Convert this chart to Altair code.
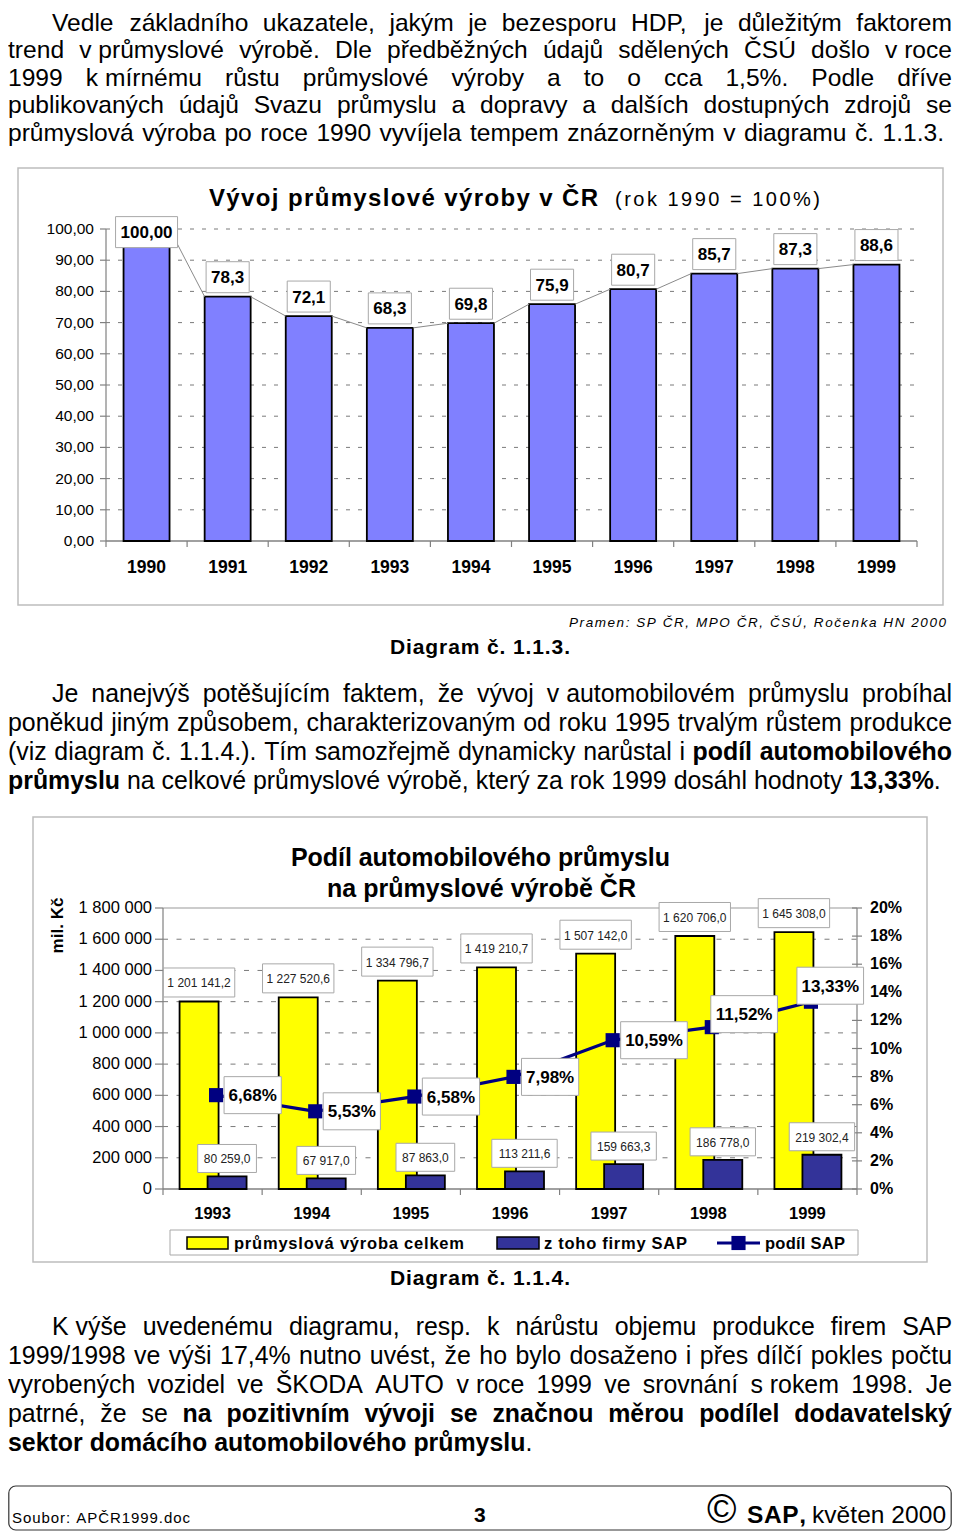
import unicodedata
import altair as alt
import pandas as pd

# ======================= DATA =======================
years_a = [1990, 1991, 1992, 1993, 1994, 1995, 1996, 1997, 1998, 1999]
index_a = [100.0, 78.3, 72.1, 68.3, 69.8, 75.9, 80.7, 85.7, 87.3, 88.6]
index_a_text = ["100,00", "78,3", "72,1", "68,3", "69,8", "75,9", "80,7", "85,7", "87,3", "88,6"]
ticks_a = [0, 10, 20, 30, 40, 50, 60, 70, 80, 90, 100]
ticks_a_text = ["0,00", "10,00", "20,00", "30,00", "40,00", "50,00",
                "60,00", "70,00", "80,00", "90,00", "100,00"]

years_b = [1993, 1994, 1995, 1996, 1997, 1998, 1999]
total_b = [1201141.2, 1227520.6, 1334796.7, 1419210.7, 1507142.0, 1620706.0, 1645308.0]
sap_b = [80259.0, 67917.0, 87863.0, 113211.6, 159663.3, 186778.0, 219302.4]
share_b = [6.68, 5.53, 6.58, 7.98, 10.59, 11.52, 13.33]
total_b_text = ["1 201 141,2", "1 227 520,6", "1 334 796,7", "1 419 210,7",
                "1 507 142,0", "1 620 706,0", "1 645 308,0"]
sap_b_text = ["80 259,0", "67 917,0", "87 863,0", "113 211,6", "159 663,3", "186 778,0", "219 302,4"]
share_b_text = ["6,68%", "5,53%", "6,58%", "7,98%", "10,59%", "11,52%", "13,33%"]
ticks_b = [0, 200000, 400000, 600000, 800000, 1000000, 1200000, 1400000, 1600000, 1800000]
ticks_b_text = ["0", "200 000", "400 000", "600 000", "800 000", "1 000 000",
                "1 200 000", "1 400 000", "1 600 000", "1 800 000"]
ticks_c = [0, 2, 4, 6, 8, 10, 12, 14, 16, 18, 20]
ticks_c_text = ["0%", "2%", "4%", "6%", "8%", "10%", "12%", "14%", "16%", "18%", "20%"]
legend_b = ["průmyslová výroba celkem", "z toho firmy SAP", "podíl SAP"]

title_a = "Vývoj průmyslové výroby v ČR"
subtitle_a = "(rok 1990 = 100%)"
source_a = "Pramen: SP ČR, MPO ČR, ČSÚ, Ročenka HN 2000"
caption_a = "Diagram č. 1.1.3."
title_b = ["Podíl automobilového průmyslu", "na průmyslové výrobě ČR"]
unit_b = "mil. Kč"
caption_b = "Diagram č. 1.1.4."

NB = "\u00a0"
# (first x, right edge for justification or None, text); *...* marks bold
para1 = [
    (52, 952, "Vedle základního ukazatele, jakým je bezesporu HDP, je důležitým faktorem"),
    (8, 952, "trend v" + NB + "průmyslové výrobě. Dle předběžných údajů sdělených ČSÚ došlo v" + NB + "roce"),
    (8, 952, "1999 k" + NB + "mírnému růstu průmyslové výroby a to o cca 1,5%. Podle dříve"),
    (8, 952, "publikovaných údajů Svazu průmyslu a dopravy a dalších dostupných zdrojů se"),
    (8, 944, "průmyslová výroba po roce 1990 vyvíjela tempem znázorněným v diagramu č. 1.1.3."),
]
para2 = [
    (52, 952, "Je nanejvýš potěšujícím faktem, že vývoj v" + NB + "automobilovém průmyslu probíhal"),
    (8, 952, "poněkud jiným způsobem, charakterizovaným od roku 1995 trvalým růstem produkce"),
    (8, 952, "(viz diagram č. 1.1.4.). Tím samozřejmě dynamicky narůstal i *podíl automobilového*"),
    (8, None, "*průmyslu* na celkové průmyslové výrobě, který za rok 1999 dosáhl hodnoty *13,33%*."),
]
para3 = [
    (52, 952, "K" + NB + "výše uvedenému diagramu, resp. k nárůstu objemu produkce firem SAP"),
    (8, 952, "1999/1998 ve výši 17,4% nutno uvést, že ho bylo dosaženo i přes dílčí pokles počtu"),
    (8, 952, "vyrobených vozidel ve ŠKODA AUTO v" + NB + "roce 1999 ve srovnání s" + NB + "rokem 1998. Je"),
    (8, 952, "patrné, že se *na pozitivním vývoji se značnou měrou podílel dodavatelský*"),
    (8, None, "*sektor domácího automobilového průmyslu*."),
]
footer_left = "Soubor: APČR1999.doc"
footer_mid = "3"
footer_right = ["©", "SAP,", "květen 2000"]

# label placement tweaks (pixels) for the share labels
share_dx = [8, 8, 8, 8, 8, -1, -14]
share_dy = [0, 0, 0, 0, 0, -13, -16]

# ======================= FONT METRICS =======================
def _tab(groups):
    d = {}
    for chars, w in groups:
        for c in chars:
            d[c] = w
    return d

REG = _tab([("abdeghnopqu0123456789L", 556), ("ckszvxyJ", 500), ("ft ,.:;/!I" + NB, 278),
            ("ijl", 222), ("r()-", 333), ("mM", 833), ("wCDHNRU", 722), ("ABEKPSVXY&", 667),
            ("GOQ", 778), ("FTZ", 611), ("W", 944), ("%", 889), ("=+", 584), ("©", 737)])
BOLD = _tab([("aceksvxyJ0123456789", 556), ("bdghnopquFLTZ", 611), ("ft:;()-", 333),
             ("ijl ,./I" + NB, 278), ("r", 389), ("m%", 889), ("wGOQ", 778), ("z", 500),
             ("ABCDHKNRU", 722), ("EPSVXY", 667), ("M", 833), ("W", 944), ("=+", 584), ("©", 737)])


def cw(c, bold):
    t = BOLD if bold else REG
    if c in t:
        return t[c]
    base = unicodedata.normalize("NFD", c)[0]
    if not bold and base == "i":
        return 278
    return t.get(base, 556)


def tw(s, size, bold):
    return sum(cw(c, bold) for c in s) * size / 1000.0


def parse(line):
    toks, bold = [], False
    for word in line.split(" "):
        segs = []
        for k, p in enumerate(word.split("*")):
            if k > 0:
                bold = not bold
            if p:
                segs.append((p, bold))
        toks.append(segs)
    return toks


rows = []


def fit(text, x0, x1, base, size, bold=False, italic=False):
    ws = [cw(c, bold) * size / 1000.0 for c in text]
    sp = (x1 - x0 - sum(ws)) / (len(text) - 1) if len(text) > 1 else 0.0
    x = x0
    for c, w in zip(text, ws):
        if c.strip():
            rows.append(dict(t=c, x=x, y=base, s=size, b=bold, i=italic))
        x += w + sp


def para(lines, baselines, size):
    for (x0, right, line), base in zip(lines, baselines):
        toks = parse(line)
        widths = [sum(tw(t, size, b) for t, b in tok) for tok in toks]
        if right is not None and len(toks) > 1:
            gap = (right - x0 - sum(widths)) / (len(toks) - 1)
        else:
            gap = cw(" ", False) * size / 1000.0
        x = x0
        for tok, w in zip(toks, widths):
            for t, b in tok:
                rows.append(dict(t=t, x=x, y=base, s=size, b=b, i=False))
                x += tw(t, size, b)
            x += gap


# ======================= SCALES =======================
W, H = 944, 1524
OX, OY = 8, 8


def sc(d0, d1, p0, p1, o):
    return alt.Scale(domain=[d0, d1], range=[p0 - o, p1 - o], nice=False, zero=False)


PX = sc(OX, OX + W, OX, OX + W, OX)
PY = sc(OY, OY + H, OY, OY + H, OY)

A_L, A_R, A_B, A_T = 106, 917, 541, 229
XA = sc(years_a[0] - 0.5, years_a[-1] + 0.5, A_L, A_R, OX)
YA = sc(0, 100, A_B, A_T, OY)
PXU_A = (A_R - A_L) / len(years_a)
PYU_A = (A_B - A_T) / 100.0

B_L, B_R, B_B, B_T = 163, 857, 1189, 908
XB = sc(years_b[0] - 0.5, years_b[-1] + 0.5, B_L, B_R, OX)
YB = sc(0, 1800000, B_B, B_T, OY)
YC = sc(0, 20, B_B, B_T, OY)
PXU_B = (B_R - B_L) / len(years_b)
PYU_B = (B_B - B_T) / 1800000.0
PYU_C = (B_B - B_T) / 20.0

FONT = "Liberation Sans"
layers = []


def rect_l(d, xs, ys, **mk):
    layers.append(alt.Chart(pd.DataFrame(d)).mark_rect(**mk).encode(
        x=alt.X("x0:Q", scale=xs, axis=None), x2="x1",
        y=alt.Y("y0:Q", scale=ys, axis=None), y2="y1"))


def rule_l(d, xs, ys, **mk):
    layers.append(alt.Chart(pd.DataFrame(d)).mark_rule(**mk).encode(
        x=alt.X("x0:Q", scale=xs, axis=None), x2="x1",
        y=alt.Y("y0:Q", scale=ys, axis=None), y2="y1"))


def text_l(d, xs, ys, **mk):
    mk.setdefault("font", FONT)
    mk.setdefault("color", "#000000")
    layers.append(alt.Chart(pd.DataFrame(d)).mark_text(**mk).encode(
        x=alt.X("x:Q", scale=xs, axis=None), y=alt.Y("y:Q", scale=ys, axis=None),
        text="t:N"))


# ======================= FRAMES =======================
rect_l(dict(x0=[18, 33], x1=[943, 927], y0=[168, 817], y1=[605, 1262]), PX, PY,
       fill="#ffffff", stroke="#bdbdbd", strokeWidth=1.5)
rect_l(dict(x0=[8.8], x1=[951.2], y0=[1486], y1=[1530]), PX, PY,
       fill="#ffffff", stroke="#333333", strokeWidth=1.2, cornerRadius=7)

# ======================= CHART A =======================
ax0, ax1 = years_a[0] - 0.5, years_a[-1] + 0.5
rule_l(dict(x0=[ax0] * 10, x1=[ax1] * 10, y0=ticks_a[1:], y1=ticks_a[1:]), XA, YA,
       stroke="#7a7a7a", strokeWidth=1, strokeDash=[4, 8])
rule_l(dict(x0=[ax0], x1=[ax0], y0=[0], y1=[100]), XA, YA, stroke="#808080", strokeWidth=1.2)
rule_l(dict(x0=[ax0 - 6 / PXU_A] * len(ticks_a), x1=[ax0] * len(ticks_a), y0=ticks_a, y1=ticks_a),
       XA, YA, stroke="#808080", strokeWidth=1.2)
bnd_a = [y - 0.5 for y in years_a] + [years_a[-1] + 0.5]
rule_l(dict(x0=bnd_a, x1=bnd_a, y0=[0] * len(bnd_a), y1=[-6 / PYU_A] * len(bnd_a)), XA, YA,
       stroke="#808080", strokeWidth=1.2)
rule_l(dict(x0=[ax0], x1=[ax1], y0=[0], y1=[0]), XA, YA, stroke="#808080", strokeWidth=1.5)

hw_a = 23 / PXU_A
rect_l(dict(x0=[y - hw_a for y in years_a], x1=[y + hw_a for y in years_a],
            y0=[0] * len(years_a), y1=index_a), XA, YA,
       fill="#8080ff", stroke="#000000", strokeWidth=1.8)
rule_l(dict(x0=[y + hw_a for y in years_a[:-1]], x1=[y - hw_a for y in years_a[1:]],
            y0=index_a[:-1], y1=index_a[1:]), XA, YA, stroke="#8a8a8a", strokeWidth=1)

lab_cy = [min(v + 19.5 / PYU_A, 99.0) for v in index_a]
lab_hw = [(tw(t, 17, True) + 10) / 2 / PXU_A for t in index_a_text]
rect_l(dict(x0=[y - h for y, h in zip(years_a, lab_hw)], x1=[y + h for y, h in zip(years_a, lab_hw)],
            y0=[c - 15.5 / PYU_A for c in lab_cy], y1=[c + 15.5 / PYU_A for c in lab_cy]), XA, YA,
       fill="#ffffff", stroke="#a8a8a8", strokeWidth=1)
text_l(dict(x=years_a, y=lab_cy, t=index_a_text), XA, YA, fontSize=17, fontWeight="bold",
       align="center", baseline="middle", dy=1)
text_l(dict(x=[ax0] * len(ticks_a), y=ticks_a, t=ticks_a_text), XA, YA, fontSize=15.5,
       align="right", baseline="middle", dx=-12)
text_l(dict(x=years_a, y=[0] * len(years_a), t=[str(y) for y in years_a]), XA, YA,
       fontSize=17.5, fontWeight="bold", align="center", baseline="middle", dy=26.5)

# ======================= CHART B =======================
bx0, bx1 = years_b[0] - 0.5, years_b[-1] + 0.5
mid_t = ticks_b[1:-1]
rule_l(dict(x0=[bx0] * len(mid_t), x1=[bx1] * len(mid_t), y0=mid_t, y1=mid_t), XB, YB,
       stroke="#7a7a7a", strokeWidth=1, strokeDash=[5, 8.5])
rule_l(dict(x0=[bx0], x1=[bx1], y0=[ticks_b[-1]], y1=[ticks_b[-1]]), XB, YB,
       stroke="#9a9a9a", strokeWidth=1.2)
rule_l(dict(x0=[bx0, bx1], x1=[bx0, bx1], y0=[0, 0], y1=[ticks_b[-1]] * 2), XB, YB,
       stroke="#808080", strokeWidth=1.2)
rule_l(dict(x0=[bx0 - 8 / PXU_B] * len(ticks_b), x1=[bx0] * len(ticks_b), y0=ticks_b, y1=ticks_b),
       XB, YB, stroke="#808080", strokeWidth=1.2)
rule_l(dict(x0=[bx1 - 5 / PXU_B] * len(ticks_c), x1=[bx1 + 5 / PXU_B] * len(ticks_c), y0=ticks_c, y1=ticks_c),
       XB, YC, stroke="#808080", strokeWidth=1.2)
bnd_b = [y - 0.5 for y in years_b] + [years_b[-1] + 0.5]
rule_l(dict(x0=bnd_b, x1=bnd_b, y0=[0] * len(bnd_b), y1=[-6 / PYU_B] * len(bnd_b)), XB, YB,
       stroke="#808080", strokeWidth=1.2)
rule_l(dict(x0=[bx0], x1=[bx1], y0=[0], y1=[0]), XB, YB, stroke="#808080", strokeWidth=1.5)

hw_b = 19.5 / PXU_B
cy_off = -13.5 / PXU_B
cs_off = 14.5 / PXU_B
cm_off = 3.5 / PXU_B
rect_l(dict(x0=[y + cy_off - hw_b for y in years_b], x1=[y + cy_off + hw_b for y in years_b],
            y0=[0] * len(years_b), y1=total_b), XB, YB,
       fill="#ffff00", stroke="#000000", strokeWidth=1.8)
rect_l(dict(x0=[y + cs_off - hw_b for y in years_b], x1=[y + cs_off + hw_b for y in years_b],
            y0=[0] * len(years_b), y1=sap_b), XB, YB,
       fill="#333399", stroke="#000000", strokeWidth=1.8)

line_df = pd.DataFrame(dict(x=[y + cm_off for y in years_b], y=share_b))
layers.append(alt.Chart(line_df).mark_line(color="#000080", strokeWidth=3.2).encode(
    x=alt.X("x:Q", scale=XB, axis=None), y=alt.Y("y:Q", scale=YC, axis=None), order="x:Q"))
layers.append(alt.Chart(line_df).mark_square(color="#000080", size=200, opacity=1).encode(
    x=alt.X("x:Q", scale=XB, axis=None), y=alt.Y("y:Q", scale=YC, axis=None)))

# total labels
t_cy = [v + 19 / PYU_B for v in total_b]
t_hw = [(tw(t, 12, False) + 8) / 2 / PXU_B for t in total_b_text]
rect_l(dict(x0=[y + cy_off - h for y, h in zip(years_b, t_hw)], x1=[y + cy_off + h for y, h in zip(years_b, t_hw)],
            y0=[c - 14.5 / PYU_B for c in t_cy], y1=[c + 14.5 / PYU_B for c in t_cy]), XB, YB,
       fill="#ffffff", stroke="#a8a8a8", strokeWidth=1)
text_l(dict(x=[y + cy_off for y in years_b], y=t_cy, t=total_b_text), XB, YB, fontSize=12,
       color="#222222", align="center", baseline="middle", dy=1)
# SAP labels
s_cy = [v + 18 / PYU_B for v in sap_b]
s_hw = [(tw(t, 12, False) + 12) / 2 / PXU_B for t in sap_b_text]
rect_l(dict(x0=[y + cs_off - h for y, h in zip(years_b, s_hw)], x1=[y + cs_off + h for y, h in zip(years_b, s_hw)],
            y0=[c - 14 / PYU_B for c in s_cy], y1=[c + 14 / PYU_B for c in s_cy]), XB, YB,
       fill="#ffffff", stroke="#a8a8a8", strokeWidth=1)
text_l(dict(x=[y + cs_off for y in years_b], y=s_cy, t=sap_b_text), XB, YB, fontSize=12,
       color="#222222", align="center", baseline="middle", dy=1)
# share labels (right axis)
sh_w = [tw(t, 17, True) + 9 for t in share_b_text]
sh_x0 = [y + cm_off + dx / PXU_B for y, dx in zip(years_b, share_dx)]
sh_cy = [v - dy / PYU_C for v, dy in zip(share_b, share_dy)]
rect_l(dict(x0=sh_x0, x1=[x + w / PXU_B for x, w in zip(sh_x0, sh_w)],
            y0=[c - 18.5 / PYU_C for c in sh_cy], y1=[c + 18.5 / PYU_C for c in sh_cy]), XB, YC,
       fill="#ffffff", stroke="#a8a8a8", strokeWidth=1)
text_l(dict(x=[x + w / 2 / PXU_B for x, w in zip(sh_x0, sh_w)], y=sh_cy, t=share_b_text), XB, YC,
       fontSize=17, fontWeight="bold", align="center", baseline="middle", dy=1)

text_l(dict(x=[bx0] * len(ticks_b), y=ticks_b, t=ticks_b_text), XB, YB, fontSize=16.5,
       align="right", baseline="middle", dx=-11)
text_l(dict(x=[bx1] * len(ticks_c), y=ticks_c, t=ticks_c_text), XB, YC, fontSize=16,
       fontWeight="bold", align="left", baseline="middle", dx=13)
text_l(dict(x=years_b, y=[0] * len(years_b), t=[str(y) for y in years_b]), XB, YB,
       fontSize=16.5, fontWeight="bold", align="center", baseline="middle", dy=25)

# legend (page coordinates)
rect_l(dict(x0=[170], x1=[858], y0=[1230], y1=[1255]), PX, PY, fill="#ffffff", stroke="#a8a8a8", strokeWidth=1)
rect_l(dict(x0=[187], x1=[228], y0=[1237], y1=[1249]), PX, PY,
       fill="#ffff00", stroke="#000000", strokeWidth=1.5)
rect_l(dict(x0=[497], x1=[539], y0=[1237], y1=[1249]), PX, PY,
       fill="#333399", stroke="#000000", strokeWidth=1.5)
rule_l(dict(x0=[717], x1=[760], y0=[1243], y1=[1243]), PX, PY, stroke="#000080", strokeWidth=3.2)
layers.append(alt.Chart(pd.DataFrame(dict(x=[738.5], y=[1243]))).mark_square(
    color="#000080", size=200, opacity=1).encode(
    x=alt.X("x:Q", scale=PX, axis=None), y=alt.Y("y:Q", scale=PY, axis=None)))

# ======================= PAGE TEXT =======================
para(para1, [30.5, 58.0, 85.5, 113.0, 140.5], 24.6)
para(para2, [702, 731, 760, 788.5], 24.9)
para(para3, [1335, 1364, 1393, 1421.5, 1450.5], 24.9)

fit(title_a, 209, 598, 206, 24, bold=True)
fit(subtitle_a, 615, 820, 206, 20)
fit(source_a, 569, 946, 626.5, 13.5, italic=True)
fit(caption_a, 390, 570, 654, 21, bold=True)
fit(title_b[0], 291, 670, 866, 25, bold=True)
fit(title_b[1], 327, 636, 897, 25, bold=True)
fit(caption_b, 390, 570, 1285, 21, bold=True)
fit(legend_b[0], 234, 464, 1248.5, 16.5, bold=True)
fit(legend_b[1], 544, 687, 1248.5, 16.5, bold=True)
fit(legend_b[2], 765, 845, 1248.5, 16.5, bold=True)
fit(footer_left, 12, 190, 1523, 15)
rows.append(dict(t=footer_mid, x=474, y=1522, s=21, b=True, i=False))
rows.append(dict(t=footer_right[0], x=707, y=1523, s=40, b=False, i=False))
fit(footer_right[1], 747, 806, 1523, 24.5, bold=True)
fit(footer_right[2], 812, 946, 1523, 24.5)

tdf = pd.DataFrame(rows)
for b in (False, True):
    for it in (False, True):
        sub = tdf[(tdf.b == b) & (tdf.i == it)]
        if len(sub) == 0:
            continue
        layers.append(alt.Chart(sub[["t", "x", "y", "s"]]).mark_text(
            align="left", baseline="alphabetic", font=FONT, color="#000000",
            fontWeight="bold" if b else "normal", fontStyle="italic" if it else "normal").encode(
            x=alt.X("x:Q", scale=PX, axis=None), y=alt.Y("y:Q", scale=PY, axis=None),
            text="t:N", size=alt.Size("s:Q", scale=None, legend=None)))

layers.append(alt.Chart(pd.DataFrame(dict(x=[58], y=[925.5], t=[unit_b]))).mark_text(
    angle=270, align="center", baseline="middle", font=FONT, fontSize=17, fontWeight="bold",
    color="#000000").encode(
    x=alt.X("x:Q", scale=PX, axis=None), y=alt.Y("y:Q", scale=PY, axis=None), text="t:N"))

chart = alt.layer(*layers).resolve_scale(x="independent", y="independent").properties(
    width=W, height=H, padding=0, autosize=alt.AutoSizeParams(type="none"),
    background="#ffffff").configure_view(strokeWidth=0)

chart.save("out.html", embed_options={"renderer": "svg", "actions": False})
